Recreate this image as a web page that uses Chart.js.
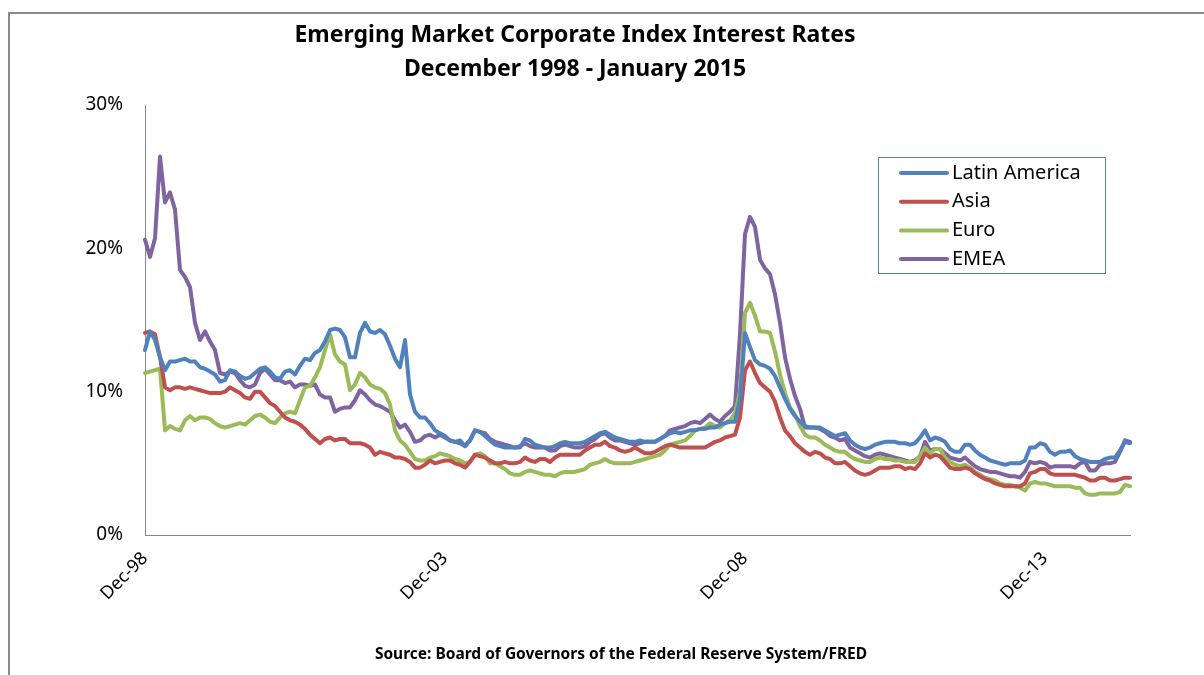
<!DOCTYPE html>
<html>
<head>
<meta charset="utf-8">
<script src="https://cdn.jsdelivr.net/npm/chart.js@4"></script>
<style>
  body { margin: 0; background: #fff; }
  .frame { position: absolute; left: 8px; top: 12px; width: 1300px; height: 800px;
           border-top: 2px solid #8a8a8a; border-left: 2px solid #8a8a8a; }
  #chart { position: absolute; left: 0; top: 0; }
</style>
</head>
<body>
<div class="frame"></div>
<canvas id="chart" width="1204" height="675"></canvas>
<script>
// monthly readings, Dec-98 onward (percent)
const latinAmerica = [
  12.9, 14.2, 13.6, 12.4, 11.5, 12.1, 12.1, 12.2, 12.3, 12.1, 12.1, 11.7,
  11.6, 11.4, 11.2, 10.7, 10.8, 11.5, 11.4, 11.1, 10.9, 11.0, 11.3, 11.6,
  11.7, 11.4, 11.0, 10.9, 11.4, 11.5, 11.2, 11.8, 12.3, 12.2, 12.7, 12.9,
  13.5, 14.3, 14.4, 14.3, 13.8, 12.4, 12.4, 14.1, 14.8, 14.2, 14.1, 14.3,
  14.0, 13.2, 12.3, 11.7, 13.6, 9.8, 8.6, 8.2, 8.2, 7.8, 7.3, 7.1,
  6.9, 6.6, 6.5, 6.6, 6.2, 6.6, 7.3, 7.2, 6.9, 6.6, 6.3, 6.2,
  6.1, 6.1, 6.1, 6.1, 6.7, 6.6, 6.3, 6.2, 6.1, 6.1, 6.2, 6.4,
  6.5, 6.4, 6.4, 6.4, 6.5, 6.7, 6.9, 7.1, 7.2, 7.0, 6.8, 6.7,
  6.6, 6.5, 6.5, 6.6, 6.5, 6.5, 6.5, 6.7, 6.9, 7.1, 7.2, 7.1,
  7.2, 7.3, 7.3, 7.4, 7.4, 7.5, 7.5, 7.7, 7.8, 7.9, 7.9, 9.5,
  14.1, 13.1, 12.2, 11.9, 11.8, 11.6, 11.1, 10.3, 9.5, 8.8, 8.3, 7.9,
  7.6, 7.5, 7.5, 7.5, 7.3, 7.1, 6.9, 7.0, 7.1, 6.6, 6.3, 6.1,
  6.0, 6.1, 6.3, 6.4, 6.5, 6.5, 6.5, 6.4, 6.4, 6.3, 6.4, 6.8,
  7.3, 6.6, 6.8, 6.7, 6.5, 6.0, 5.8, 5.8, 6.3, 6.3, 5.9, 5.6,
  5.4, 5.2, 5.1, 5.0, 4.9, 5.0, 5.0, 5.0, 5.2, 6.1, 6.1, 6.4,
  6.3, 5.8, 5.6, 5.8, 5.8, 5.9, 5.5, 5.3, 5.2, 5.1, 5.1, 5.1,
  5.3, 5.4, 5.4, 5.9, 6.5, 6.4
];
const asia = [
  14.1, 14.2, 14.0, 12.4, 10.3, 10.1, 10.3, 10.3, 10.2, 10.3, 10.2, 10.1,
  10.0, 9.9, 9.9, 9.9, 10.0, 10.3, 10.1, 9.9, 9.6, 9.5, 10.0, 10.0,
  9.6, 9.2, 9.0, 8.6, 8.2, 8.0, 7.9, 7.7, 7.4, 7.0, 6.7, 6.4,
  6.7, 6.8, 6.6, 6.7, 6.7, 6.4, 6.4, 6.4, 6.3, 6.1, 5.6, 5.8,
  5.7, 5.6, 5.4, 5.4, 5.3, 5.1, 4.7, 4.7, 4.9, 5.2, 5.0, 5.1,
  5.2, 5.2, 5.0, 4.9, 4.7, 5.1, 5.6, 5.5, 5.4, 5.2, 5.0, 5.0,
  5.1, 5.0, 5.0, 5.1, 5.4, 5.2, 5.1, 5.3, 5.3, 5.1, 5.4, 5.6,
  5.6, 5.6, 5.6, 5.6, 5.9, 6.1, 6.3, 6.3, 6.5, 6.2, 6.1, 5.9,
  5.8, 5.9, 6.1, 5.9, 5.7, 5.7, 5.8, 6.0, 6.2, 6.3, 6.2, 6.1,
  6.1, 6.1, 6.1, 6.1, 6.1, 6.3, 6.5, 6.6, 6.8, 6.9, 7.0, 8.2,
  11.5, 12.1, 11.3, 10.6, 10.3, 10.0, 9.3, 8.2, 7.3, 6.9, 6.4, 6.1,
  5.8, 5.6, 5.8, 5.7, 5.4, 5.3, 5.0, 5.0, 5.1, 4.8, 4.5, 4.3,
  4.2, 4.3, 4.5, 4.7, 4.7, 4.7, 4.8, 4.8, 4.6, 4.7, 4.6, 5.0,
  5.7, 5.4, 5.6, 5.5, 5.1, 4.7, 4.6, 4.6, 4.7, 4.6, 4.3, 4.1,
  3.9, 3.8, 3.6, 3.5, 3.4, 3.4, 3.4, 3.4, 3.6, 4.3, 4.4, 4.6,
  4.6, 4.3, 4.2, 4.2, 4.2, 4.2, 4.2, 4.1, 4.0, 3.8, 3.8, 4.0,
  4.0, 3.8, 3.8, 3.9, 4.0, 4.0
];
const euro = [
  11.3, 11.4, 11.5, 11.6, 7.3, 7.6, 7.4, 7.3, 8.0, 8.3, 8.0, 8.2,
  8.2, 8.1, 7.8, 7.6, 7.5, 7.6, 7.7, 7.8, 7.7, 8.0, 8.3, 8.4,
  8.2, 7.9, 7.8, 8.2, 8.5, 8.6, 8.5, 9.4, 10.3, 10.4, 11.0, 11.7,
  12.9, 14.0, 12.6, 12.1, 11.9, 10.1, 10.5, 11.3, 11.0, 10.5, 10.3, 10.2,
  9.9, 9.1, 7.3, 6.6, 6.3, 5.8, 5.3, 5.2, 5.2, 5.4, 5.5, 5.7,
  5.6, 5.5, 5.3, 5.2, 5.0, 5.1, 5.6, 5.7, 5.5, 5.0, 5.0, 4.8,
  4.6, 4.3, 4.2, 4.2, 4.4, 4.5, 4.4, 4.3, 4.2, 4.2, 4.1, 4.3,
  4.4, 4.4, 4.4, 4.5, 4.6, 4.9, 5.0, 5.1, 5.3, 5.1, 5.0, 5.0,
  5.0, 5.0, 5.1, 5.2, 5.3, 5.4, 5.5, 5.6, 5.9, 6.3, 6.4, 6.5,
  6.6, 6.9, 7.3, 7.4, 7.5, 7.8, 7.6, 7.5, 7.8, 8.0, 8.5, 10.0,
  15.5, 16.2, 15.3, 14.2, 14.2, 14.1, 12.8, 11.2, 9.9, 8.9, 8.4, 7.6,
  7.0, 6.8, 6.8, 6.6, 6.3, 6.1, 5.9, 5.8, 5.8, 5.5, 5.3, 5.2,
  5.1, 5.1, 5.3, 5.4, 5.3, 5.3, 5.2, 5.2, 5.1, 5.1, 5.1, 5.5,
  6.1, 5.7, 6.0, 6.0, 5.4, 5.1, 4.9, 4.8, 4.9, 4.7, 4.4, 4.2,
  4.0, 3.9, 3.8, 3.6, 3.5, 3.5, 3.4, 3.3, 3.1, 3.6, 3.7, 3.6,
  3.6, 3.5, 3.4, 3.4, 3.4, 3.4, 3.3, 3.3, 2.9, 2.8, 2.8, 2.9,
  2.9, 2.9, 2.9, 3.0, 3.5, 3.4
];
const emea = [
  20.6, 19.4, 20.7, 26.4, 23.2, 23.9, 22.7, 18.5, 18.0, 17.3, 14.8, 13.6,
  14.2, 13.5, 12.9, 11.3, 11.2, 11.4, 11.3, 10.8, 10.4, 10.3, 10.5, 11.3,
  11.6, 11.2, 10.8, 10.8, 10.6, 10.7, 10.3, 10.5, 10.5, 10.4, 10.5, 9.8,
  9.6, 9.6, 8.6, 8.8, 8.9, 8.9, 9.4, 10.1, 9.8, 9.4, 9.1, 9.0,
  8.8, 8.6, 8.0, 7.5, 7.7, 7.2, 6.5, 6.6, 6.9, 7.0, 6.8, 7.0,
  6.8, 6.6, 6.5, 6.4, 6.2, 6.6, 7.3, 7.2, 7.1, 6.7, 6.5, 6.4,
  6.3, 6.2, 6.1, 6.2, 6.4, 6.2, 6.1, 6.1, 6.1, 5.9, 5.9, 6.2,
  6.3, 6.2, 6.1, 6.1, 6.2, 6.5, 6.7, 7.0, 7.1, 6.8, 6.6, 6.6,
  6.5, 6.4, 6.3, 6.4, 6.5, 6.5, 6.5, 6.7, 6.9, 7.3, 7.4, 7.5,
  7.6, 7.8, 7.9, 7.8, 8.1, 8.4, 8.1, 7.9, 8.3, 8.6, 9.0, 14.0,
  21.0, 22.2, 21.5, 19.2, 18.6, 18.2, 16.8, 14.8, 12.4, 10.9, 9.7, 8.8,
  7.5, 7.5, 7.5, 7.4, 7.2, 6.9, 6.8, 6.6, 6.7, 6.1, 5.9, 5.7,
  5.5, 5.4, 5.6, 5.7, 5.6, 5.5, 5.4, 5.3, 5.2, 5.1, 5.2, 5.5,
  6.5, 5.9, 6.0, 6.0, 5.7, 5.4, 5.3, 5.2, 5.4, 5.1, 4.8, 4.6,
  4.5, 4.4, 4.4, 4.3, 4.2, 4.1, 4.1, 4.0, 4.4, 5.1, 5.0, 5.1,
  5.0, 4.7, 4.8, 4.8, 4.8, 4.8, 4.7, 5.0, 5.1, 4.5, 4.5, 4.9,
  5.0, 5.0, 5.1, 5.8, 6.6, 6.5
];
const tickLabels = ['Dec-98', 'Dec-03', 'Dec-08', 'Dec-13'];
const yTicks = [0, 10, 20, 30];

// month labels starting Dec 1998
const monthNames = ['Jan','Feb','Mar','Apr','May','Jun','Jul','Aug','Sep','Oct','Nov','Dec'];
const categories = [];
for (let i = 0; i < emea.length; i++) {
  const m = (11 + i) % 12;
  const y = 1998 + Math.floor((11 + i) / 12);
  categories.push(monthNames[m] + '-' + String(y).slice(2));
}

const FONT = '"Noto Sans", "Open Sans", sans-serif';

// title, source note and boxed legend drawn on top
const decorations = {
  id: 'decorations',
  afterDraw(chart) {
    const c = chart.ctx;
    c.save();
    c.fillStyle = '#000';
    c.textAlign = 'center';
    c.textBaseline = 'middle';
    c.font = 'bold 23px ' + FONT;
    c.fillText('Emerging Market Corporate Index Interest Rates', 575, 35);
    c.fillText('December 1998 - January 2015', 575, 69);
    c.font = 'bold 15.5px ' + FONT;
    c.fillText('Source: Board of Governors of the Federal Reserve System/FRED', 621, 655);

    // legend box
    c.strokeStyle = '#4F81BD';
    c.lineWidth = 1;
    c.strokeRect(878.5, 157.5, 227, 116);
    c.textAlign = 'left';
    c.font = '20px ' + FONT;
    chart.data.datasets.forEach((ds, i) => {
      const y = 173 + i * 28.7;
      c.strokeStyle = ds.borderColor;
      c.lineWidth = 4;
      c.lineCap = 'round';
      c.beginPath();
      c.moveTo(901, y);
      c.lineTo(947, y);
      c.stroke();
      c.fillStyle = '#000';
      c.fillText(ds.label, 952, y);
    });
    c.restore();
  }
};

const ctx = document.getElementById('chart');

new Chart(ctx, {
  type: 'line',
  data: {
    labels: categories,
    datasets: [
      { label: 'Latin America', data: latinAmerica, borderColor: '#4F81BD' },
      { label: 'Asia', data: asia, borderColor: '#C0504D' },
      { label: 'Euro', data: euro, borderColor: '#9BBB59' },
      { label: 'EMEA', data: emea, borderColor: '#8064A2' }
    ]
  },
  options: {
    responsive: false,
    animation: false,
    layout: { padding: { left: 0, right: 74, top: 105, bottom: 0 } },
    elements: {
      line: { borderWidth: 4, tension: 0, borderJoinStyle: 'round', borderCapStyle: 'round' },
      point: { radius: 0 }
    },
    plugins: {
      legend: { display: false },
      tooltip: { enabled: false }
    },
    scales: {
      x: {
        afterFit: scale => { scale.height = 140; },
        grid: { display: false },
        border: { display: true, color: '#868686', width: 1 },
        ticks: {
          autoSkip: false,
          maxRotation: 45,
          minRotation: 45,
          padding: 5,
          color: '#000',
          font: { size: 18, family: FONT },
          callback: function(value) {
            const lab = this.getLabelForValue(value);
            return tickLabels.includes(lab) ? lab : '';
          }
        }
      },
      y: {
        min: 0,
        max: 30,
        afterFit: scale => { scale.width = 145; },
        afterBuildTicks: scale => { scale.ticks = yTicks.map(v => ({ value: v })); },
        grid: { display: false },
        border: { display: true, color: '#868686', width: 1 },
        ticks: {
          padding: 14,
          color: '#000',
          font: { size: 19, family: FONT },
          callback: v => v + '%'
        }
      }
    }
  },
  plugins: [decorations]
});
</script>
</body>
</html>
